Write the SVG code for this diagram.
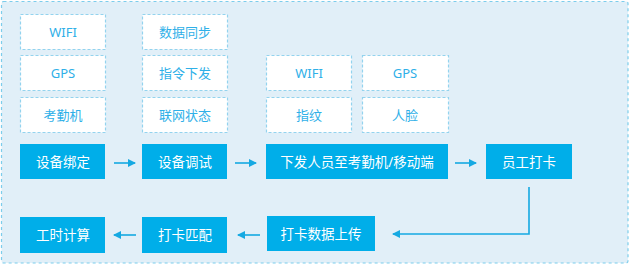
<svg xmlns="http://www.w3.org/2000/svg" width="630" height="265" viewBox="0 0 630 265">
<defs>
<style>
.bg{fill:#e1eff8;stroke:#7ccdec;stroke-width:1.2;stroke-dasharray:3 3}
.sb{fill:#ffffff;stroke:#93d3ee;stroke-width:1.2;stroke-dasharray:3 2}
.st{fill:#2fb0e8;font-family:"Noto Sans","Noto Sans CJK SC",sans-serif;font-size:13px;text-anchor:middle;dominant-baseline:central}
.mb{fill:#00aee9}
.mt{fill:#ffffff;font-family:"Noto Sans","Noto Sans CJK SC",sans-serif;font-size:13.5px;text-anchor:middle;dominant-baseline:central}
.ln{fill:none;stroke:#15a9e2;stroke-width:1.6}
</style>
<marker id="ah" viewBox="0 0 8 8" refX="7" refY="4" markerWidth="8" markerHeight="8" markerUnits="userSpaceOnUse" orient="auto">
<path d="M0,0 L8,4 L0,8 Z" fill="#15a9e2"/>
</marker>
</defs>
<rect class="bg" x="1.5" y="1.5" width="626.5" height="261.5" rx="2"/>
<g id="n-wifi1"><rect class="sb" x="20.5" y="14.5" width="85" height="35"/><text class="st" x="63" y="32">WIFI</text></g>
<g id="n-gps1"><rect class="sb" x="20.5" y="55.5" width="85" height="35"/><text class="st" x="63" y="73">GPS</text></g>
<g id="n-kqj"><rect class="sb" x="20.5" y="97.5" width="85" height="35"/><text class="st" x="63" y="115">考勤机</text></g>
<g id="n-sjtb"><rect class="sb" x="142.5" y="14.5" width="85" height="35"/><text class="st" x="185" y="32">数据同步</text></g>
<g id="n-zlxf"><rect class="sb" x="142.5" y="55.5" width="85" height="35"/><text class="st" x="185" y="73">指令下发</text></g>
<g id="n-lwzt"><rect class="sb" x="142.5" y="97.5" width="85" height="35"/><text class="st" x="185" y="115">联网状态</text></g>
<g id="n-wifi2"><rect class="sb" x="266.5" y="55.5" width="85" height="35"/><text class="st" x="309" y="73">WIFI</text></g>
<g id="n-zw"><rect class="sb" x="266.5" y="97.5" width="85" height="35"/><text class="st" x="309" y="115">指纹</text></g>
<g id="n-gps2"><rect class="sb" x="362.5" y="55.5" width="86" height="35"/><text class="st" x="405" y="73">GPS</text></g>
<g id="n-rl"><rect class="sb" x="362.5" y="97.5" width="86" height="35"/><text class="st" x="405" y="115">人脸</text></g>
<g id="n-sbbd"><rect class="mb" x="20" y="144" width="85" height="35"/><text class="mt" x="63" y="162">设备绑定</text></g>
<g id="n-sbts"><rect class="mb" x="142" y="144" width="85" height="35"/><text class="mt" x="185" y="162">设备调试</text></g>
<g id="n-xfry"><rect class="mb" x="266" y="144" width="182" height="35"/><text class="mt" x="357" y="162">下发人员至考勤机/移动端</text></g>
<g id="n-ygdk"><rect class="mb" x="486" y="144" width="86" height="35"/><text class="mt" x="529" y="162">员工打卡</text></g>
<g id="n-dksc"><rect class="mb" x="267" y="216" width="108" height="35"/><text class="mt" x="321" y="234">打卡数据上传</text></g>
<g id="n-dkpp"><rect class="mb" x="142" y="217" width="85" height="36"/><text class="mt" x="185" y="235">打卡匹配</text></g>
<g id="n-gsjs"><rect class="mb" x="20" y="217" width="85" height="36"/><text class="mt" x="63" y="235">工时计算</text></g>
<g id="connectors">
<path class="ln" d="M114,163 H135" marker-end="url(#ah)"/>
<path class="ln" d="M235,163 H256" marker-end="url(#ah)"/>
<path class="ln" d="M455,163 H476" marker-end="url(#ah)"/>
<path class="ln" d="M529,187 V234 H393" marker-end="url(#ah)"/>
<path class="ln" d="M260,235 H238" marker-end="url(#ah)"/>
<path class="ln" d="M136,235 H114" marker-end="url(#ah)"/>
</g>
</svg>
